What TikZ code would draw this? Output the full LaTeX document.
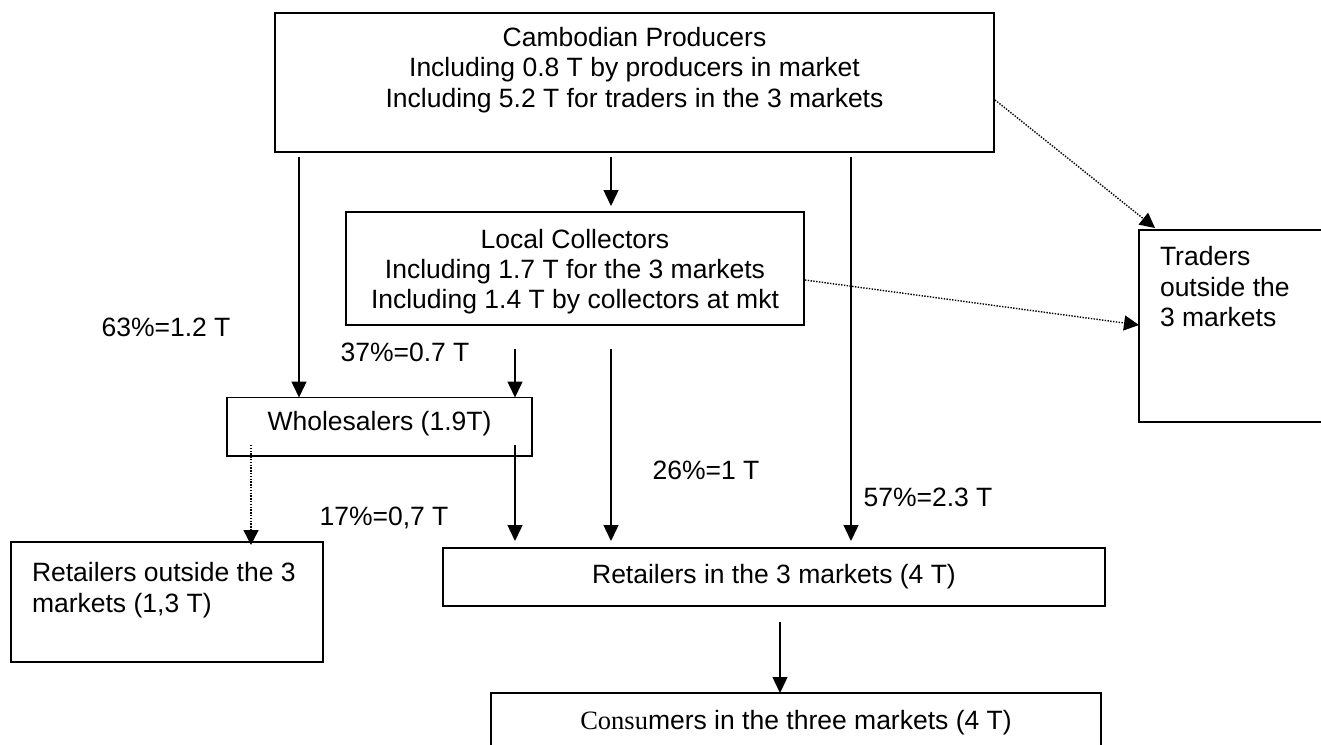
\documentclass[tikz,border=0pt]{standalone}
\usepackage{fontspec}
\setmainfont{Liberation Sans}
\newfontfamily\serifpart{Liberation Serif}
\usetikzlibrary{arrows.meta}

\tikzset{
  box/.style={draw=black, line width=1.8pt, fill=white, rectangle,
              inner sep=0pt, outer sep=0pt},
  txt/.style={inner sep=0pt, outer sep=0pt,
              font=\fontsize{26.5pt}{30.8pt}\selectfont},
  flow/.style={draw=black, line width=1.4pt,
               -{Triangle[length=16pt,width=15pt]}},
  side/.style={draw=black, line width=1.4pt, dash pattern=on 1.4pt off 1.4pt,
               -{Triangle[length=15pt,width=15pt]}}
}

\begin{document}
\begin{tikzpicture}[x=1pt,y=-1pt]
  \useasboundingbox (0,0) rectangle (1321,744);
  \clip (0,0) rectangle (1321,744);

  % boxes
  \node[box, minimum width=719pt, minimum height=139pt] (prod)    at (634.5,82.5) {};
  \node[box, minimum width=458pt, minimum height=113pt] (local)   at (575,268.5)  {};
  \node[box, minimum width=200pt, minimum height=192pt] (traders) at (1239,326)   {};
  \node[box, minimum width=305pt, minimum height=58.5pt] (whole)  at (379.5,426.75) {};
  \node[box, minimum width=312pt, minimum height=120pt] (retout)  at (167,602)    {};
  \node[box, minimum width=662pt, minimum height=58pt]  (retin)   at (774,577)    {};
  \node[box, minimum width=610pt, minimum height=80pt]  (cons)    at (796,733)    {};

  % box texts
  \node[txt, align=center] (prodtxt) at (634.5,70)
    {Cambodian Producers\\Including 0.8 T by producers in market\\Including 5.2 T for traders in the 3 markets};
  \node[txt, align=center, font=\fontsize{26.5pt}{30pt}\selectfont] (localtxt) at (575,272)
    {Local Collectors\\Including 1.7 T for the 3 markets\\Including 1.4 T by collectors at mkt};
  \node[txt, align=left, anchor=north west] (tradtxt) at (1160,246)
    {Traders\\outside the\\3 markets};
  \node[txt] (wholetxt) at (379.5,424) {Wholesalers (1.9T)};
  \node[txt, align=left, anchor=north west] (retouttxt) at (32,562)
    {Retailers outside the 3\\markets (1,3 T)};
  \node[txt] (retintxt) at (774,577) {Retailers in the 3 markets (4 T)};
  \node[txt] (constxt) at (796,723) {{\serifpart Consu}mers in the three markets (4 T)};

  % flow labels
  \node[txt] (l63) at (166,327) {63\%=1.2 T};
  \node[txt] (l37) at (405,352) {37\%=0.7 T};
  \node[txt] (l17) at (384,518) {17\%=0,7 T};
  \node[txt] (l26) at (706,470) {26\%=1 T};
  \node[txt] (l57) at (928,497) {57\%=2.3 T};

  % solid flows
  \draw[flow] ([xshift=24pt,yshift=-5pt]prod.south west)  -- ([xshift=72pt]whole.north west);
  \draw[flow] ([xshift=336pt,yshift=-5pt]prod.south west) -- ([xshift=265pt,yshift=6pt]local.north west);
  \draw[flow] ([xshift=576pt,yshift=-5pt]prod.south west) -- ([xshift=408pt,yshift=7pt]retin.north west);
  \draw[flow] ([xshift=169pt,yshift=-24pt]local.south west) -- ([xshift=288pt]whole.north west);
  \draw[flow] ([xshift=265pt,yshift=-24pt]local.south west) -- ([xshift=168pt,yshift=7pt]retin.north west);
  \draw[flow] ([xshift=288pt,yshift=11pt]whole.south west) -- ([xshift=72pt,yshift=7pt]retin.north west);
  \draw[flow] ([xshift=337pt,yshift=-16pt]retin.south west) -- ([xshift=289pt]cons.north west);

  % dotted flows
  \draw[side] ([xshift=1pt,yshift=-87pt]prod.north east) -- ([xshift=16pt,yshift=2pt]traders.north west);
  \draw[side] ([xshift=1pt,yshift=-68pt]local.north east) -- ([yshift=-95pt]traders.north west);
  \draw[side] ([xshift=24pt,yshift=11pt]whole.south west) -- ([xshift=240pt,yshift=-3pt]retout.north west);
\end{tikzpicture}
\end{document}
